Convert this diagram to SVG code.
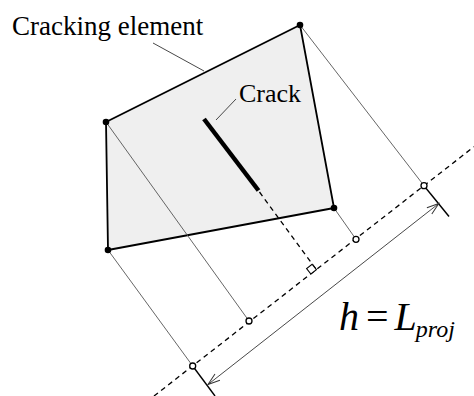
<svg xmlns="http://www.w3.org/2000/svg" width="474" height="396" viewBox="0 0 474 396">
  <style>
    .lbl { font-family: "Liberation Serif", "Times New Roman", serif; fill: #000; }
    .proj { stroke: #555; stroke-width: 0.9; fill: none; }
    .axis { stroke: #000; stroke-width: 1.3; stroke-dasharray: 5 4; fill: none; }
    .tick { stroke: #000; stroke-width: 1.4; fill: none; }
    .vtx { fill: #000; }
    .oc { fill: #fff; stroke: #000; stroke-width: 1.3; }
    .lead { stroke: #333; stroke-width: 0.9; fill: none; }
  </style>
  <defs>
    <marker id="arr" viewBox="-1 -1 14 10" refX="12" refY="4" markerWidth="14" markerHeight="10" markerUnits="userSpaceOnUse" orient="auto-start-reverse" overflow="visible">
      <path d="M0,0 L12,4 L0,8" fill="none" stroke="#333" stroke-width="1"/>
    </marker>
  </defs>

  <g id="element">
    <polygon points="300,25 106,122 108,250 334,208" fill="#efefef" stroke="#000" stroke-width="1.8" stroke-linejoin="round"/>
  </g>

  <g id="connectors">
    <line class="proj" x1="300" y1="25" x2="424" y2="185.7"/>
    <line class="proj" x1="106" y1="122" x2="249" y2="321"/>
    <line class="proj" x1="108" y1="250" x2="192.7" y2="366"/>
    <line class="proj" x1="334" y1="208" x2="356" y2="239.3"/>
    <line class="axis" x1="154" y1="396" x2="474" y2="146.7"/>
    <line class="axis" x1="259.5" y1="192" x2="316.4" y2="269.7" stroke-width="1.2"/>
    <polygon points="316.4,269.7 312.1,264.2 306.6,268.5 310.9,274" fill="#fff" stroke="#000" stroke-width="1.1"/>
    <line class="tick" x1="424" y1="185.7" x2="449" y2="216.5"/>
    <line class="tick" x1="192.7" y1="366" x2="215" y2="396"/>
    <line x1="438.8" y1="203.5" x2="208" y2="384.5" stroke="#333" stroke-width="0.9" marker-start="url(#arr)" marker-end="url(#arr)"/>
    <line class="lead" x1="153" y1="43" x2="204" y2="71"/>
    <line class="lead" x1="236" y1="99" x2="216" y2="120"/>
  </g>

  <g id="crack">
    <line x1="204" y1="119" x2="258.5" y2="190.5" stroke="#000" stroke-width="4.5"/>
  </g>

  <g id="vertices">
    <circle class="vtx" cx="300" cy="25" r="3.3"/>
    <circle class="vtx" cx="106" cy="122" r="3.3"/>
    <circle class="vtx" cx="108" cy="250" r="3.3"/>
    <circle class="vtx" cx="334" cy="208" r="3.3"/>
  </g>

  <g id="projections">
    <circle class="oc" cx="424" cy="185.7" r="3"/>
    <circle class="oc" cx="356" cy="239.3" r="3"/>
    <circle class="oc" cx="249" cy="321" r="3"/>
    <circle class="oc" cx="192.7" cy="366" r="3"/>
  </g>

  <g id="labels">
    <text class="lbl" x="339" y="330" font-size="40"><tspan font-style="italic">h</tspan><tspan dx="7">=</tspan><tspan dx="6" font-style="italic">L</tspan><tspan font-style="italic" font-size="24" dx="-1" dy="7">proj</tspan></text>
    <text class="lbl" x="12" y="35" font-size="27">Cracking element</text>
    <text class="lbl" x="239" y="102" font-size="26">Crack</text>
  </g>
</svg>
